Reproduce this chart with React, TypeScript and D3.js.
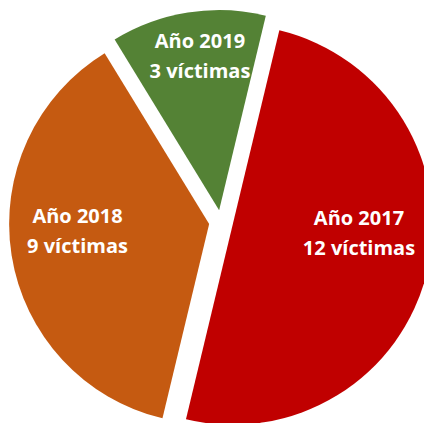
import React from "react";
import * as d3 from "d3";

const years = ["Año 2017", "Año 2018", "Año 2019"];
const victims = [12, 9, 3];
const colors = ["#C00000", "#C55A11", "#548235"];

const W = 424;
const H = 423;
const CX = 221;
const CY = 222;
const R = 200;
const EXPLODE = 12;
const START = (13.5 * Math.PI) / 180;
// label anchor (first line baseline) in polar coords from the pie centre: [deg, radius]
const labelPolar: [number, number][] = [
  [91.2, 138],
  [269.6, 143.5],
  [353.1, 175.3],
];
const LINE_GAP = 30;

export default function App() {
  const pie = d3
    .pie<number>()
    .sort(null)
    .startAngle(START)
    .endAngle(START + 2 * Math.PI)
    .value((d) => d);
  const arcs = pie(victims);
  const arc = d3.arc<d3.PieArcDatum<number>>().innerRadius(0).outerRadius(R);

  return (
    <svg
      width={W}
      height={H}
      style={{ position: "absolute", left: 0, top: 0, background: "#fff" }}
    >
      <g transform={`translate(${CX},${CY})`}>
        {arcs.map((a, i) => {
          const mid = (a.startAngle + a.endAngle) / 2;
          const dx = Math.sin(mid) * EXPLODE;
          const dy = -Math.cos(mid) * EXPLODE;
          return (
            <path
              key={i}
              d={arc(a) || ""}
              fill={colors[i]}
              transform={`translate(${dx},${dy})`}
            />
          );
        })}
        {arcs.map((a, i) => {
          const [deg, r] = labelPolar[i];
          const t = (deg * Math.PI) / 180;
          const x = Math.sin(t) * r;
          const y = -Math.cos(t) * r;
          return (
            <text
              key={"l" + i}
              x={x}
              y={y}
              textAnchor="middle"
              fill="#fff"
              fontFamily="'Open Sans', sans-serif"
              fontWeight={700}
              fontSize={20}
            >
              <tspan x={x} y={y}>
                {years[i]}
              </tspan>
              <tspan x={x} y={y + LINE_GAP}>
                {`${a.data} víctimas`}
              </tspan>
            </text>
          );
        })}
      </g>
    </svg>
  );
}
